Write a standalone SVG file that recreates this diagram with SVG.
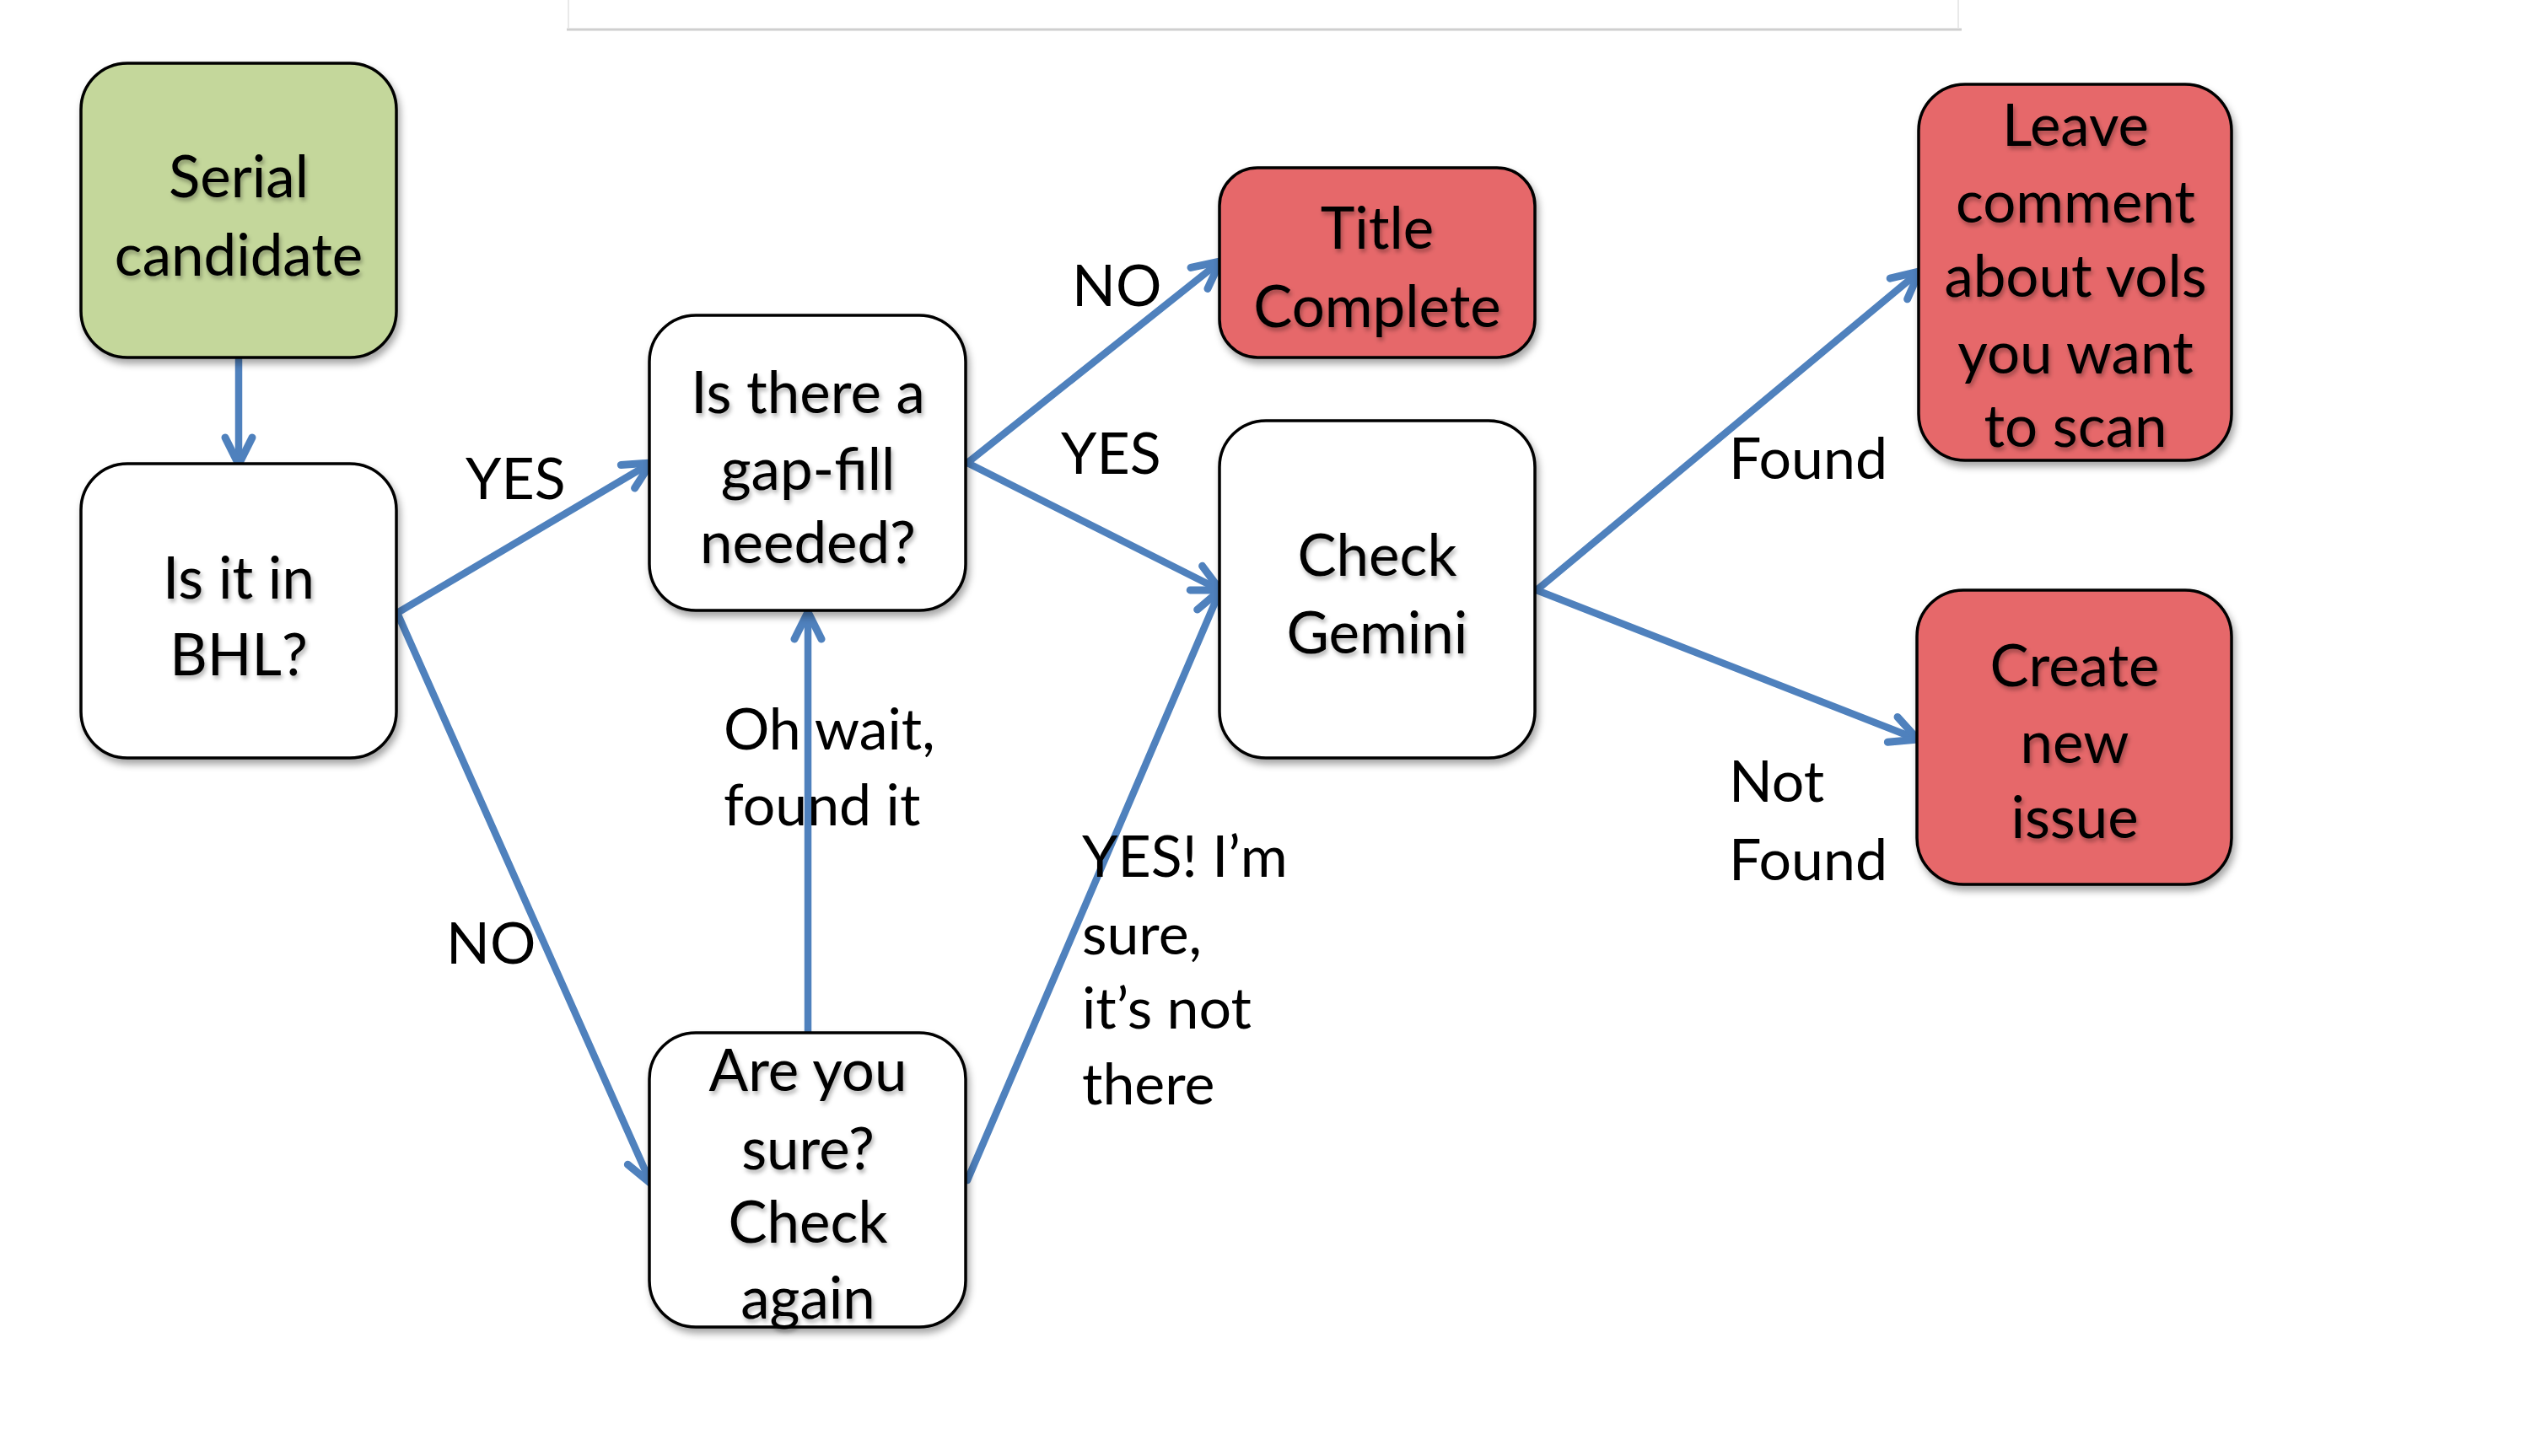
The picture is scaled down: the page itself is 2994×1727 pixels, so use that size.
<svg xmlns="http://www.w3.org/2000/svg" width="2994" height="1727" viewBox="0 0 2994 1727">
<style>
.node{stroke:#000;stroke-width:3.5}
.white{fill:#fff}
.green{fill:#C4D79B}
.red{fill:#E6686A}
.nt{font-family:Lato,"Liberation Sans",sans-serif;font-size:69px;fill:#000;text-anchor:middle}
.lb{font-family:Lato,"Liberation Sans",sans-serif;font-size:68px;fill:#000}
.conn{stroke:#4F81BD;stroke-width:8.5;fill:none;stroke-linecap:round}
</style>
<defs>
<filter id="sh" x="-20%" y="-20%" width="140%" height="140%">
<feDropShadow dx="3" dy="6" stdDeviation="4" flood-color="#000" flood-opacity="0.35"/>
</filter>
<filter id="tsh" x="-10%" y="-20%" width="120%" height="150%">
<feDropShadow dx="2" dy="4" stdDeviation="2.5" flood-color="#000" flood-opacity="0.3"/>
</filter>
<marker id="ah" markerUnits="userSpaceOnUse" viewBox="-45 -28 56 56" markerWidth="56" markerHeight="56" refX="0" refY="0" orient="auto">
<path d="M-32,-16 L0,0 L-32,16" fill="none" stroke="#4F81BD" stroke-width="9" stroke-linecap="round" stroke-linejoin="round"/>
</marker>
</defs>
<rect width="2994" height="1727" fill="#fff"/>
<g id="frame">
<line x1="674" y1="0" x2="674" y2="33" stroke="#e2e2e2" stroke-width="1.5"/>
<line x1="2322" y1="0" x2="2322" y2="33" stroke="#e2e2e2" stroke-width="1.5"/>
<line x1="672" y1="35" x2="2326" y2="35" stroke="#cfcfcf" stroke-width="3"/>
</g>
<g id="connectors">
<line class="conn" x1="283" y1="426" x2="283" y2="551" marker-end="url(#ah)"/>
<line class="conn" x1="471" y1="727" x2="772" y2="549" marker-end="url(#ah)"/>
<line class="conn" x1="471" y1="727" x2="772" y2="1404" marker-end="url(#ah)"/>
<line class="conn" x1="958" y1="1224" x2="958" y2="726" marker-end="url(#ah)"/>
<line class="conn" x1="1147" y1="549" x2="1447" y2="310" marker-end="url(#ah)"/>
<line class="conn" x1="1147" y1="549" x2="1447" y2="700" marker-end="url(#ah)"/>
<line class="conn" x1="1147" y1="1400" x2="1447" y2="700" marker-end="url(#ah)"/>
<line class="conn" x1="1822" y1="700" x2="2276" y2="322" marker-end="url(#ah)"/>
<line class="conn" x1="1822" y1="700" x2="2274" y2="877" marker-end="url(#ah)"/>
</g>
<g id="labels">
<text class="lb" x="552" y="592">YES</text>
<text class="lb" x="529" y="1143">NO</text>
<text class="lb" x="858" y="889">Oh wait,</text>
<text class="lb" x="858" y="979">found it</text>
<text class="lb" x="1271" y="363">NO</text>
<text class="lb" x="1258" y="562">YES</text>
<text class="lb" x="1283" y="1040">YES! I’m</text>
<text class="lb" x="1283" y="1132">sure,</text>
<text class="lb" x="1283" y="1220">it’s not</text>
<text class="lb" x="1283" y="1310">there</text>
<text class="lb" x="2050" y="568">Found</text>
<text class="lb" x="2050" y="951">Not</text>
<text class="lb" x="2050" y="1044">Found</text>
</g>
<g id="serial">
<rect class="node green" x="96" y="75" width="374" height="349" rx="55" filter="url(#sh)"/>
<g filter="url(#tsh)"><text class="nt" x="283" y="234">Serial</text><text class="nt" x="283" y="327">candidate</text></g>
</g>
<g id="inbhl">
<rect class="node white" x="96" y="550" width="374" height="349" rx="55" filter="url(#sh)"/>
<g filter="url(#tsh)"><text class="nt" x="283" y="710">Is it in</text><text class="nt" x="283" y="801">BHL?</text></g>
</g>
<g id="gapfill">
<rect class="node white" x="770" y="374" width="375" height="350" rx="55" filter="url(#sh)"/>
<g filter="url(#tsh)"><text class="nt" x="958" y="490">Is there a</text><text class="nt" x="958" y="581">gap-fill</text><text class="nt" x="958" y="668">needed?</text></g>
</g>
<g id="sure">
<rect class="node white" x="770" y="1225" width="375" height="349" rx="55" filter="url(#sh)"/>
<g filter="url(#tsh)"><text class="nt" x="958" y="1294">Are you</text><text class="nt" x="958" y="1387">sure?</text><text class="nt" x="958" y="1474">Check</text><text class="nt" x="958" y="1564">again</text></g>
</g>
<g id="title">
<rect class="node red" x="1446" y="199" width="374" height="225" rx="45" filter="url(#sh)"/>
<g filter="url(#tsh)"><text class="nt" x="1633" y="295">Title</text><text class="nt" x="1633" y="388">Complete</text></g>
</g>
<g id="gemini">
<rect class="node white" x="1446" y="499" width="374" height="400" rx="55" filter="url(#sh)"/>
<g filter="url(#tsh)"><text class="nt" x="1633" y="683">Check</text><text class="nt" x="1633" y="775">Gemini</text></g>
</g>
<g id="comment">
<rect class="node red" x="2275" y="100" width="371" height="446" rx="55" filter="url(#sh)"/>
<g filter="url(#tsh)"><text class="nt" x="2461" y="173">Leave</text><text class="nt" x="2461" y="264">comment</text><text class="nt" x="2461" y="352">about vols</text><text class="nt" x="2461" y="443">you want</text><text class="nt" x="2461" y="530">to scan</text></g>
</g>
<g id="issue">
<rect class="node red" x="2273" y="700" width="373" height="349" rx="55" filter="url(#sh)"/>
<g filter="url(#tsh)"><text class="nt" x="2460" y="814">Create</text><text class="nt" x="2460" y="905">new</text><text class="nt" x="2460" y="994">issue</text></g>
</g>
</svg>
